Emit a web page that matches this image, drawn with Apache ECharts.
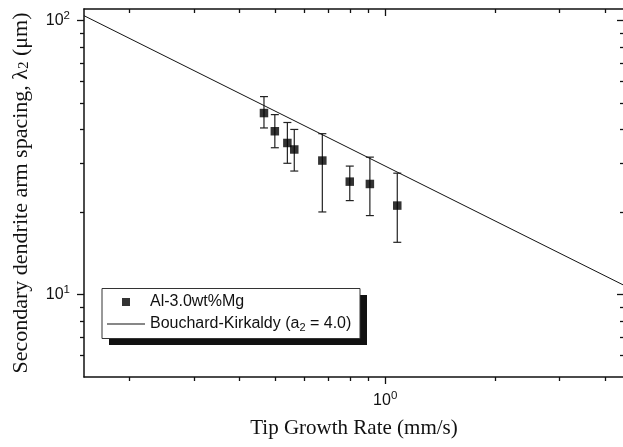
<!DOCTYPE html>
<html><head><meta charset="utf-8">
<script src="https://cdn.jsdelivr.net/npm/echarts@6/dist/echarts.min.js"></script>
<style>html,body{margin:0;padding:0;background:#fff}#c{width:623px;height:447px}</style>
</head><body><div id="c"></div>
<script>
// ---- data ----
const growthRate = [0.466, 0.499, 0.540, 0.564, 0.673, 0.800, 0.908, 1.079];
const armSpacing = [45.9, 39.4, 35.7, 33.8, 30.8, 25.8, 25.3, 21.1];
const errLow     = [40.5, 34.3, 30.1, 28.2, 20.0, 22.0, 19.4, 15.5];
const errHigh    = [52.7, 45.3, 42.4, 40.0, 38.6, 29.4, 31.7, 27.7];
const modelRate    = [0.15, 4.5];
const modelSpacing = [104, 10.8];
const xMajorTicks = [1];
const xMinorTicks = [0.2, 0.3, 0.4, 0.5, 0.6, 0.7, 0.8, 0.9, 2, 3, 4];
const yMajorTicks = [10, 100];
const yMinorTicks = [6, 7, 8, 9, 20, 30, 40, 50, 60, 70, 80, 90];
const xLabelValues = [1];
const yLabelValues = [10, 100];
const seriesNames = ['Al-3.0wt%Mg', 'Bouchard-Kirkaldy (a2 = 4.0)'];

const SANS = "'Liberation Sans', Arial, sans-serif";
const SERIF = "'Liberation Serif', 'Times New Roman', serif";
const INK = '#111';
const X_MIN = 0.15, X_MAX = 4.5, Y_MIN = 5, Y_MAX = 110;

function powLabel(v) {
  return '{b|10}{s|' + Math.round(Math.log10(v)) + '}';
}
const labelRich = {
  b: {fontFamily: SANS, fontSize: 16, lineHeight: 22, color: INK},
  s: {fontFamily: SANS, fontSize: 11.5, lineHeight: 11, verticalAlign: 'top', color: INK}
};

function axis(kind, pos, ticks, len, inside, withLine, labels, extra) {
  const o = {
    type: 'log', logBase: 10, position: pos,
    min: kind === 'x' ? X_MIN : Y_MIN,
    max: kind === 'x' ? X_MAX : Y_MAX,
    axisLine: {show: withLine, lineStyle: {color: INK, width: 1.5}},
    axisTick: {show: true, inside: inside, length: len, customValues: ticks,
               lineStyle: {color: INK, width: 1.3}},
    axisLabel: labels ? {show: true, customValues: labels, formatter: powLabel, rich: labelRich,
                         margin: kind === 'x' ? 13 : 14}
                      : {show: false},
    splitLine: {show: false},
    minorTick: {show: false},
    minorSplitLine: {show: false}
  };
  return Object.assign(o, extra || {});
}

const xAxes = [
  axis('x', 'bottom', xMajorTicks, 7, false, true, xLabelValues, {
    name: 'Tip Growth Rate (mm/s)', nameLocation: 'middle', nameGap: 41,
    nameTextStyle: {fontFamily: SERIF, fontSize: 21, color: INK}
  }),
  axis('x', 'bottom', xMinorTicks, 4, false, false, null),
  axis('x', 'top', xMajorTicks, 7, true, true, null),
  axis('x', 'top', xMinorTicks, 4, true, false, null)
];
const yAxes = [
  axis('y', 'left', yMajorTicks, 7, false, true, yLabelValues, {
    name: 'Secondary dendrite arm spacing, λ{sub|2} (μm)', nameLocation: 'middle', nameGap: 52,
    nameTextStyle: {fontFamily: SERIF, fontSize: 22, color: INK,
      rich: {sub: {fontFamily: SERIF, fontSize: 15, lineHeight: 14, verticalAlign: 'bottom', color: INK}}}
  }),
  axis('y', 'left', yMinorTicks, 4, false, false, null),
  axis('y', 'right', yMajorTicks, 7, true, true, null),
  axis('y', 'right', yMinorTicks, 4, true, false, null)
];

const chart = echarts.init(document.getElementById('c'), null, {renderer: 'canvas'});
chart.setOption({
  animation: false,
  backgroundColor: '#fff',
  grid: {left: 84, top: 9, width: 540, height: 368, containLabel: false, outerBoundsMode: 'none'},
  xAxis: xAxes,
  yAxis: yAxes,
  graphic: [
    {type: 'rect', z: 9, silent: true, shape: {x: 109, y: 295, width: 258, height: 50},
     style: {fill: '#111', stroke: null}},
    {type: 'rect', z: 9, silent: true, shape: {x: 102, y: 288.5, width: 258, height: 50},
     style: {fill: '#fff', stroke: '#333', lineWidth: 1}}
  ],
  legend: {
    z: 10,
    orient: 'vertical', left: 107, top: 293,
    itemWidth: 38, itemHeight: 8, itemGap: 4,
    padding: 0,
    selectedMode: false,
    textStyle: {fontFamily: SANS, fontSize: 16, lineHeight: 18, color: INK,
      rich: {sub: {fontFamily: SANS, fontSize: 11, lineHeight: 11, verticalAlign: 'bottom', color: INK}}},
    formatter: function (name) { return name === seriesNames[1] ? 'Bouchard-Kirkaldy (a{sub|2} = 4.0)' : name; },
    data: [
      {name: seriesNames[0], icon: 'path://M0 0H10V10H0Z', itemStyle: {color: '#000'}},
      {name: seriesNames[1], icon: 'path://M0 0H40V1H0Z', itemStyle: {color: '#111'}}
    ]
  },
  series: [
    {
      name: 'errorbars', type: 'custom', xAxisIndex: 0, yAxisIndex: 0, z: 2,
      data: growthRate.map((v, i) => [v, errLow[i], errHigh[i]]),
      encode: {x: 0, y: [1, 2]},
      renderItem: function (params, api) {
        const x = api.value(0);
        const a = api.coord([x, api.value(1)]);
        const b = api.coord([x, api.value(2)]);
        const hw = 4;
        const st = {stroke: '#222', lineWidth: 1.2};
        return {type: 'group', children: [
          {type: 'line', shape: {x1: a[0], y1: a[1], x2: b[0], y2: b[1]}, style: st},
          {type: 'line', shape: {x1: a[0] - hw, y1: a[1], x2: a[0] + hw, y2: a[1]}, style: st},
          {type: 'line', shape: {x1: b[0] - hw, y1: b[1], x2: b[0] + hw, y2: b[1]}, style: st}
        ]};
      }
    },
    {
      name: seriesNames[1], type: 'line', xAxisIndex: 0, yAxisIndex: 0, z: 3,
      symbol: 'none', showSymbol: false,
      lineStyle: {color: INK, width: 1}, itemStyle: {color: INK},
      data: modelRate.map((v, i) => [v, modelSpacing[i]])
    },
    {
      name: seriesNames[0], type: 'scatter', xAxisIndex: 0, yAxisIndex: 0, z: 4,
      symbol: 'rect', symbolSize: 8.5,
      itemStyle: {color: '#000'},
      data: growthRate.map((v, i) => [v, armSpacing[i]])
    }
  ]
});
</script>
</body></html>
